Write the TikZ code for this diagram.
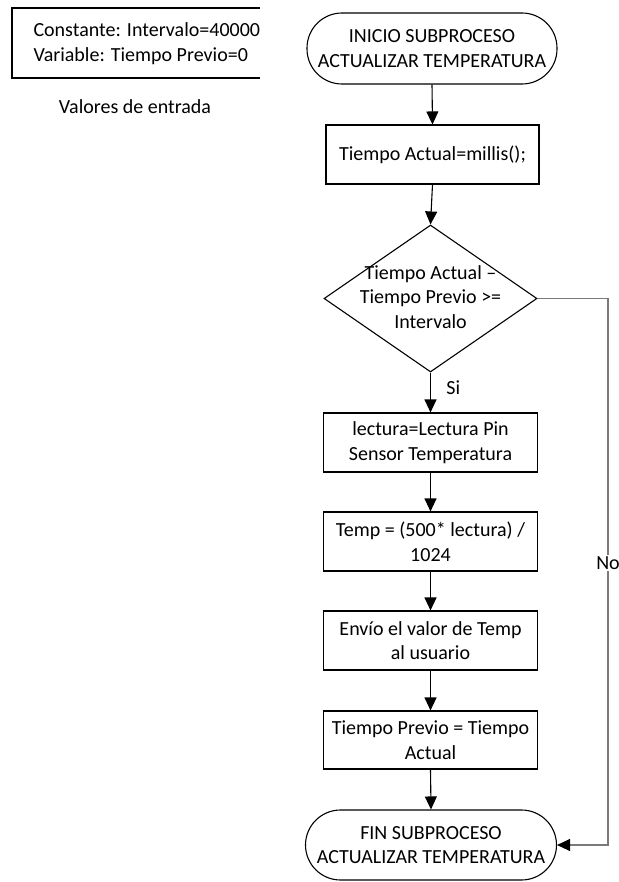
\documentclass[tikz,border=0pt]{standalone}
\usepackage{fontspec}
\setmainfont{Carlito}
\usetikzlibrary{shapes.geometric,arrows.meta}

\begin{document}
\begin{tikzpicture}[x=1pt,y=-1pt,
  every node/.style={font=\fontsize{20}{24.5}\selectfont},
  line/.style={draw=black,line width=1.1pt},
  flow/.style={line,-{Triangle[length=13pt,width=12pt]}},
  terminal/.style={draw=black,line width=1.1pt,rectangle,rounded corners=35pt,
    inner sep=0pt,align=center},
  stepbox/.style={draw=black,line width=1.1pt,rectangle,minimum width=214pt,
    minimum height=59pt,inner sep=0pt,align=center},
  decision/.style={draw=black,line width=1.1pt,diamond,minimum width=213pt,
    minimum height=147pt,inner sep=0pt},
  noline/.style={draw=black!52,line width=1.1pt,
    -{Triangle[length=13pt,width=12pt,color=black]}}]

\useasboundingbox (0,0) rectangle (618,882);

% input values
\draw[line] (260,8) -- (12,8) -- (12,78) -- (260,78);
\node[anchor=west,align=left] (inputs) at (30,43.5)
  {Constante: Intervalo=40000\\Variable: Tiempo Previo=0};
\node (inlabel) at (135,107) {Valores de entrada};

% flow chart
\node[terminal,minimum width=250pt,minimum height=71pt] (start) at (432,48.5)
  {INICIO SUBPROCESO\\ACTUALIZAR TEMPERATURA};
\node[stepbox,minimum width=213pt] (b1) at (432.5,154.5) {Tiempo Actual=millis();};
\node[decision] (dec) at (430.5,298.5) {};
\node[align=center] (dectext) at ([yshift=1.5pt]dec.center) {Tiempo Actual --\\Tiempo Previo >=\\Intervalo};
\node[stepbox] (b2) at (430.5,442.5) {lectura=Lectura Pin\\Sensor Temperatura};
\node[stepbox] (b3) at (430.5,541.5) {Temp = (500* lectura) /\\1024};
\node[stepbox] (b4) at (430.5,640.5) {Envío el valor de Temp\\al usuario};
\node[stepbox,minimum height=58pt] (b5) at (430.5,740) {Tiempo Previo = Tiempo\\Actual};
\node[terminal,minimum width=251pt,minimum height=70pt] (end) at (431,845)
  {FIN SUBPROCESO\\ACTUALIZAR TEMPERATURA};

\draw[flow] (start.south) -- (b1.north);
\draw[flow] (b1.south) -- (dec.north);
\draw[flow] (dec.south) -- node[pos=0.38,anchor=west,xshift=12pt] (si) {Si} (b2.north);
\draw[flow] (b2.south) -- (b3.north);
\draw[flow] (b3.south) -- (b4.north);
\draw[flow] (b4.south) -- (b5.north);
\draw[flow] (b5.south) -- (end.north);

\coordinate (nr) at (608,298.5);
\coordinate (nb) at (608,845);
\draw[noline] (dec.east) -- (nr) -- node[pos=0.484,fill=white,inner sep=1.5pt] (no) {No} (nb) -- (end.east);

\end{tikzpicture}
\end{document}
